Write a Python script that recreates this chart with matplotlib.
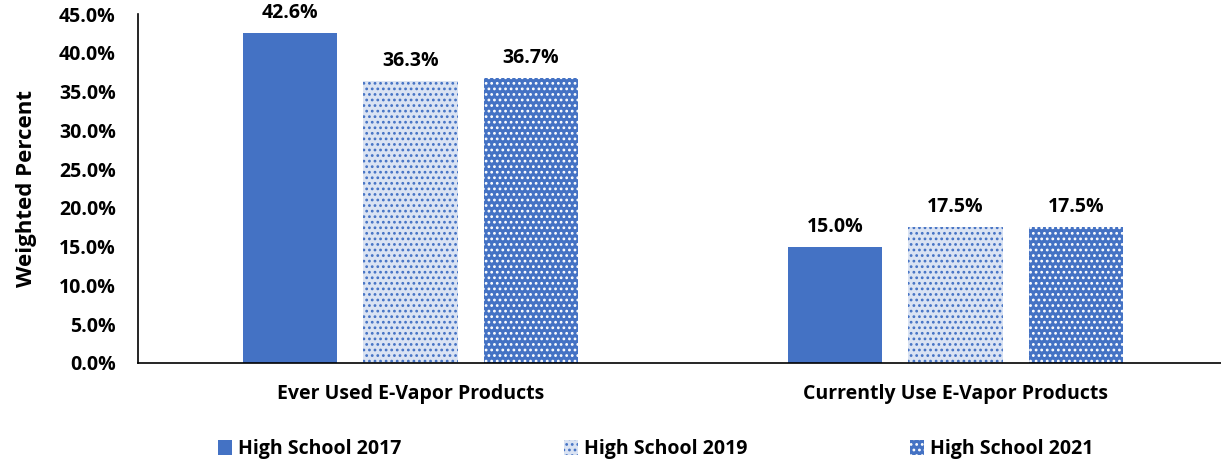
import numpy as np
import matplotlib.pyplot as plt

plt.rcParams['font.family'] = ['Open Sans', 'DejaVu Sans']
plt.rcParams['font.weight'] = 'bold'
plt.rcParams['hatch.linewidth'] = 1.2

categories = ['Ever Used E-Vapor Products', 'Currently Use E-Vapor Products']
series = ['High School 2017', 'High School 2019', 'High School 2021']
hs2017 = [42.6, 15.0]
hs2019 = [36.3, 17.5]
hs2021 = [36.7, 17.5]

values = [hs2017, hs2019, hs2021]
faces = ['#4472C4', '#DAE3F3', '#4472C4']
dots = ['#4472C4', '#4472C4', '#FFFFFF']
hatches = [None, '...', '...']

fig = plt.figure(figsize=(12.21, 4.63), dpi=100)
ax = fig.add_axes([138 / 1221, 100 / 463, 1090 / 1221, 349 / 463])

x = np.arange(len(categories))
w = 0.174
step = 0.221
handles = []
for i, vals in enumerate(values):
    b = ax.bar(x + (i - 1) * step, vals, width=w, color=faces[i], edgecolor=dots[i],
               hatch=hatches[i], linewidth=0, label=series[i])
    handles.append(b)
    for xi, v in zip(x + (i - 1) * step, vals):
        ax.text(xi, v + 1.3, f'{v:.1f}%', ha='center', va='bottom', fontsize=14, fontweight='bold')

ax.set_xlim(-0.5, 1.5)
ax.set_ylim(0, 45)
ax.set_yticks(np.arange(0, 46, 5))
ax.set_yticklabels([f'{t:.1f}%' for t in np.arange(0, 46, 5)], fontsize=14)
ax.set_xticks(x)
ax.set_xticklabels(categories, fontsize=14)
ax.tick_params(axis='x', length=0, pad=15)
ax.tick_params(axis='y', length=0, pad=16)
ax.spines['top'].set_visible(False)
ax.spines['right'].set_visible(False)
ax.spines['left'].set_linewidth(1.2)
ax.spines['bottom'].set_linewidth(1.2)
ax.set_ylabel('Weighted Percent', fontsize=16, fontweight='bold', labelpad=16)

fig.legend(handles=handles, loc='center', bbox_to_anchor=(0.537, 14 / 463), ncol=3,
           frameon=False, fontsize=14, columnspacing=8.4, handlelength=0.7,
           handleheight=0.8, handletextpad=0.3)

fig.savefig('out.png', dpi=100)
